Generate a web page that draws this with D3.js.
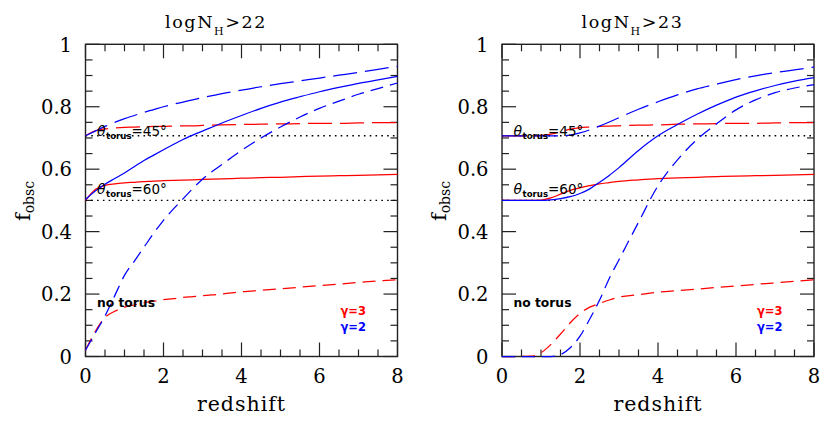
<!DOCTYPE html>
<html><head><meta charset="utf-8">
<script src="https://cdn.jsdelivr.net/npm/d3@7"></script>
<style>html,body{margin:0;padding:0;background:#fff;}svg{display:block;}</style>
</head><body>
<svg id="chart" width="831" height="431"></svg>
<script>
// ---- data ----
const redshift = [0,0.25,0.5,0.75,1,1.25,1.5,1.75,2,2.25,2.5,2.75,3,3.5,4,4.5,5,5.5,6,6.5,7,7.5,8];
// panel logNH>22
const red45_22  = [.707,.723,.729,.732,.734,.735,.736,.737,.737,.738,.739,.739,.740,.742,.743,.744,.745,.746,.747,.747,.748,.749,.749];
const red60_22  = [.500,.535,.548,.553,.556,.558,.560,.562,.563,.564,.565,.566,.567,.569,.571,.573,.574,.576,.578,.579,.580,.582,.583];
const red0_22   = [.020,.080,.125,.145,.158,.165,.172,.177,.182,.185,.189,.192,.195,.200,.207,.212,.217,.222,.227,.232,.237,.242,.246];
const blue45_22 = [.707,.722,.737,.750,.762,.772,.782,.791,.800,.808,.815,.822,.829,.842,.853,.864,.874,.883,.892,.901,.910,.920,.929];
const blue60_22 = [.503,.530,.552,.570,.588,.608,.628,.645,.662,.679,.695,.709,.722,.748,.772,.795,.815,.832,.848,.862,.875,.886,.897];
const blue0_22  = [.020,.075,.130,.195,.260,.305,.350,.395,.436,.472,.505,.538,.568,.615,.660,.700,.735,.767,.795,.818,.840,.858,.876];
// panel logNH>23
const red45_23  = [.707,.707,.707,.707,.708,.712,.720,.728,.733,.735,.737,.738,.739,.741,.742,.744,.745,.746,.747,.747,.748,.749,.749];
const red60_23  = [.500,.500,.500,.500,.501,.508,.520,.532,.540,.547,.553,.557,.561,.566,.570,.572,.574,.576,.578,.579,.580,.582,.583];
const red0_23   = [0,0,0,.001,.012,.038,.072,.108,.138,.158,.170,.181,.190,.198,.206,.211,.216,.221,.226,.231,.236,.241,.246];
const blue45_23 = [.707,.707,.707,.707,.707,.707,.707,.709,.716,.726,.738,.751,.765,.792,.816,.838,.857,.872,.887,.899,.909,.918,.927];
const blue60_23 = [.500,.500,.500,.500,.500,.502,.506,.512,.522,.537,.558,.580,.605,.660,.707,.743,.776,.805,.831,.851,.868,.882,.893];
const blue0_23  = [0,0,0,0,0,0,.006,.028,.065,.120,.180,.250,.310,.430,.547,.630,.695,.745,.790,.822,.845,.860,.871];

const torusLevels = [Math.cos(Math.PI/4), Math.cos(Math.PI/3)]; // 45°, 60°
const xTickLabels = [0,2,4,6,8];
const yTickLabels = [0,0.2,0.4,0.6,0.8,1];
const panelTitles = ["22","23"];
const gammaLabels = ["γ=3","γ=2"];

// ---- drawing ----
const svg = d3.select("#chart");
const RED = "#ff0000", BLUE = "#0000ff";
const dashLong = "24,8", dashShort = "13,7";

const panels = [
  {x0:85.5, x1:397.5, nh:panelTitles[0], red:[red60_22,red45_22,red0_22], blue:[blue60_22,blue45_22,blue0_22]},
  {x0:502,  x1:814,   nh:panelTitles[1], red:[red60_23,red45_23,red0_23], blue:[blue60_23,blue45_23,blue0_23]}
];
const yTop = 44.3, yBot = 356.5;
const styles = [null, dashLong, dashShort];

panels.forEach((p, pi) => {
  const x = d3.scaleLinear().domain([0,8]).range([p.x0, p.x1]);
  const y = d3.scaleLinear().domain([0,1]).range([yBot, yTop]);
  const g = svg.append("g");

  // axes frame and inward ticks on all sides
  const ax = g.append("g").attr("stroke", "#222").attr("stroke-width", 1.2);
  const xMinor = d3.range(0, 8.001, 0.5);
  xMinor.forEach(v => {
    const major = Math.abs(v/2 - Math.round(v/2)) < 1e-6;
    const L = major ? 14 : 7;
    ax.append("line").attr("x1", x(v)).attr("x2", x(v)).attr("y1", yBot).attr("y2", yBot - L);
    ax.append("line").attr("x1", x(v)).attr("x2", x(v)).attr("y1", yTop).attr("y2", yTop + L);
  });
  const yMinor = d3.range(0, 1.0001, 0.05);
  yMinor.forEach(v => {
    const major = Math.abs(v/0.2 - Math.round(v/0.2)) < 1e-6;
    const L = major ? 14 : 7;
    ax.append("line").attr("y1", y(v)).attr("y2", y(v)).attr("x1", p.x0).attr("x2", p.x0 + L);
    ax.append("line").attr("y1", y(v)).attr("y2", y(v)).attr("x1", p.x1).attr("x2", p.x1 - L);
  });
  g.append("rect").attr("x", p.x0).attr("y", yTop).attr("width", p.x1 - p.x0).attr("height", yBot - yTop)
    .attr("fill", "none").attr("stroke", "#222").attr("stroke-width", 1.4);

  // dotted torus levels
  torusLevels.forEach(v => {
    g.append("line").attr("x1", x(0)).attr("x2", x(8)).attr("y1", y(v)).attr("y2", y(v))
      .attr("stroke", "#000").attr("stroke-width", 1.3).attr("stroke-dasharray", "1.6,4.2");
  });

  const line = d3.line().x((d,i) => x(redshift[i])).y(d => y(d)).curve(d3.curveMonotoneX);
  const drawSet = (arrs, col) => arrs.forEach((a, k) => {
    const path = g.append("path").datum(a).attr("d", line).attr("fill", "none")
      .attr("stroke", col).attr("stroke-width", 1.25);
    if (styles[k]) path.attr("stroke-dasharray", styles[k]);
  });
  drawSet(p.red, RED);
  drawSet(p.blue, BLUE);

  const serif = "'DejaVu Serif', serif";
  xTickLabels.forEach(v => {
    g.append("text").attr("x", x(v)).attr("y", 383).attr("text-anchor", "middle")
      .attr("font-family", serif).attr("font-size", 19.5).attr("fill", "#000").text(v);
  });
  yTickLabels.forEach(v => {
    g.append("text").attr("x", p.x0 - 13.5).attr("y", y(v) + 7.3).attr("text-anchor", "end")
      .attr("font-family", serif).attr("font-size", 19.5).attr("fill", "#000").text(v);
  });
  // x label
  g.append("text").attr("x", (p.x0 + p.x1)/2).attr("y", 410.5).attr("text-anchor", "middle")
    .attr("font-family", serif).attr("font-size", 20.5).attr("letter-spacing", 1).attr("fill", "#000").text("redshift");
  // y label
  const yl = g.append("text").attr("transform", `translate(${p.x0 - 56},201) rotate(-90)`)
    .attr("text-anchor", "middle").attr("font-family", serif).attr("fill", "#000");
  yl.append("tspan").attr("font-size", 21).text("f");
  yl.append("tspan").attr("font-size", 14).attr("dy", 4).text("obsc");
  // title
  const t = g.append("text").attr("x", p.x0 + 79.5).attr("y", 27.5)
    .attr("font-family", serif).attr("font-size", 17.5).attr("letter-spacing", 1.6).attr("fill", "#000");
  t.append("tspan").text("logN");
  t.append("tspan").attr("font-size", 11).attr("dy", 7).text("H");
  t.append("tspan").attr("dy", -7).text(">" + p.nh);

  // torus labels
  const sans = "'DejaVu Sans', sans-serif";
  [["45°", 136], ["60°", 194]].forEach(([deg, by]) => {
    const tt = g.append("text").attr("x", p.x0 + 11.5).attr("y", by).attr("font-family", sans).attr("fill", "#000");
    tt.append("tspan").attr("font-size", 14).attr("font-style", "italic").text("θ");
    tt.append("tspan").attr("font-size", 8.6).attr("font-weight", "bold").attr("dy", 2.8).attr("dx", 0.5).text("torus");
    tt.append("tspan").attr("font-size", 13.5).attr("dy", -2.8).text("=" + deg);
  });
  g.append("text").attr("x", p.x0 + 11.5).attr("y", 306.7).attr("font-family", sans)
    .attr("font-weight", "bold").attr("font-size", 12.3).attr("fill", "#000").text("no torus");
  g.append("text").attr("x", p.x0 + 255).attr("y", 314.8).attr("font-family", sans)
    .attr("font-weight", "bold").attr("font-size", 11.5).attr("fill", RED).text(gammaLabels[0]);
  g.append("text").attr("x", p.x0 + 255).attr("y", 330.5).attr("font-family", sans)
    .attr("font-weight", "bold").attr("font-size", 11.5).attr("fill", BLUE).text(gammaLabels[1]);
});
</script>
</body></html>
